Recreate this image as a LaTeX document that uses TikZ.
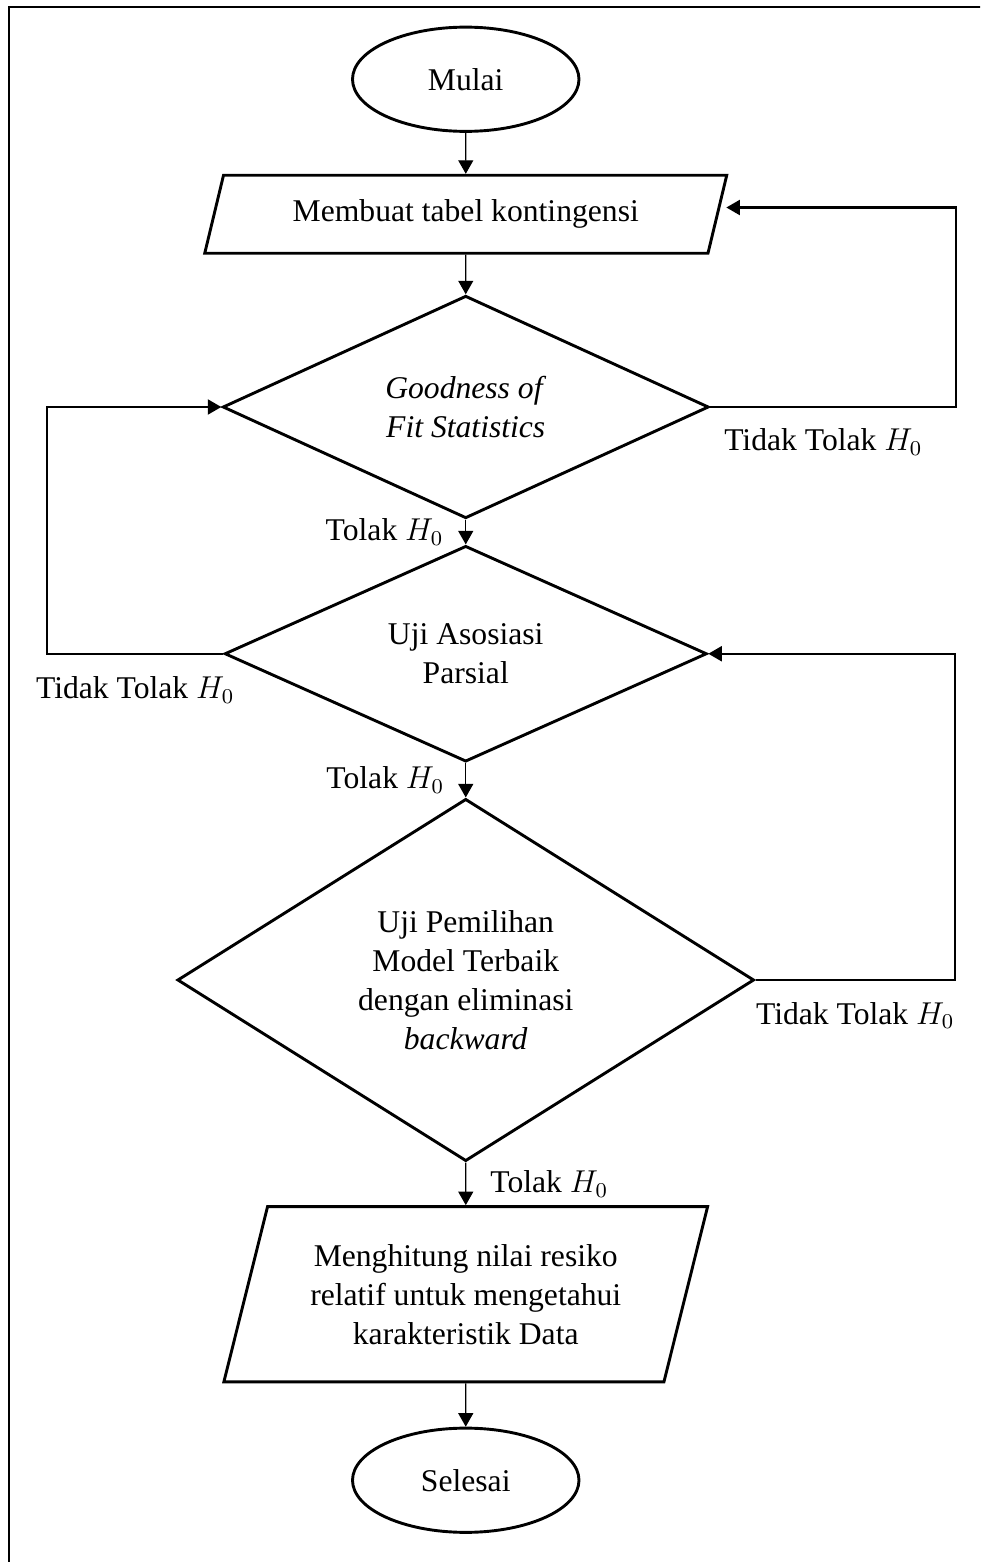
\documentclass[tikz,border=0pt]{standalone}
\usepackage{fontspec}
\setmainfont{Liberation Serif}
\usetikzlibrary{shapes.geometric, arrows.meta, positioning}

\begin{document}
\begin{tikzpicture}[
    font=\fontsize{12pt}{14.8pt}\selectfont,
    terminal/.style={ellipse, draw, line width=1.1pt, inner sep=0pt, minimum width=3.02cm, minimum height=1.39cm},
    io/.style={trapezium, trapezium left angle=76, trapezium right angle=104, trapezium stretches body, draw, line width=1.1pt, inner xsep=0pt, align=center},
    decision/.style={diamond, draw, line width=1.1pt, inner sep=0pt, align=center},
    flow/.style={-{Triangle[width=0.2cm, length=0.18cm]}, line width=0.45pt},
    feedback/.style={-{Triangle[width=0.2cm, length=0.18cm]}, line width=0.8pt},
    lbl/.style={inner sep=0pt}
]
    \clip (0,0) rectangle (13.067,20.827);
    % Frame
    \draw[line width=1.1pt] (0.12,-1) rectangle (14,20.733);

    % Draw nodes
    \node[terminal] (mulai) at (6.21,19.77) {Mulai};
    \node[io, inner ysep=0.31cm, minimum width=6.96cm, minimum height=1.04cm] (tabel) at (6.21,17.97) {Membuat tabel kontingensi};
    \node[decision, minimum width=6.48cm, minimum height=2.69cm] (gof) at (6.21,15.40) {\textit{Goodness of}\\ \textit{Fit Statistics}};
    \node[decision, minimum width=6.43cm, minimum height=2.68cm] (asosiasi) at (6.21,12.11) {Uji Asosiasi\\ Parsial};
    \node[decision, minimum width=7.69cm, minimum height=4.83cm] (model) at (6.21,7.76) {Uji Pemilihan\\ Model Terbaik\\ dengan eliminasi\\ \textit{backward}};
    \node[io, inner ysep=0.5cm, minimum width=6.45cm, minimum height=2.33cm] (hitung) at (6.21,3.57) {Menghitung nilai resiko\\ relatif untuk mengetahui\\ karakteristik Data};
    \node[terminal] (selesai) at (6.21,1.09) {Selesai};

    % Corners of the loops
    \coordinate (kanan1) at (12.75,15.40);
    \coordinate (kiri) at (0.63,12.11);
    \coordinate (kanan2) at (12.73,7.76);

    % Draw connections
    \draw[flow] (mulai) -- (tabel);
    \draw[flow] (tabel) -- (gof);
    \draw[flow] (gof.south) -- node[lbl, left=0.29cm] {Tolak $H_0$} (asosiasi.north);
    \draw[flow] (asosiasi.south) -- node[lbl, left=0.28cm] {Tolak $H_0$} (model.north);
    \draw[flow] (model.south) -- node[lbl, right=0.32cm] {Tolak $H_0$} (hitung.north);
    \draw[flow] (hitung) -- (selesai);

    % Loops back
    \draw[feedback, shorten >=0.1cm] (gof.east) -- node[lbl, below=0.27cm, pos=0.46] {Tidak Tolak $H_0$} (kanan1) |- ([yshift=0.09cm]tabel.east);
    \draw[feedback] (asosiasi.west) -- node[lbl, below=0.29cm] {Tidak Tolak $H_0$} (kiri) |- (gof.west);
    \draw[feedback] (model.east) -- node[lbl, below=0.28cm] {Tidak Tolak $H_0$} (kanan2) |- (asosiasi.east);
\end{tikzpicture}
\end{document}
